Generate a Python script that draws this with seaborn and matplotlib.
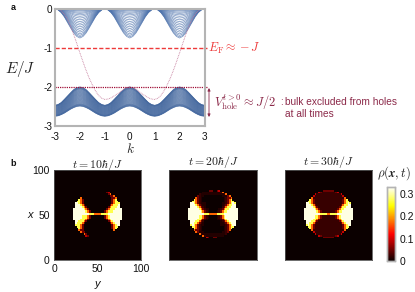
import numpy as np
import pandas as pd
import matplotlib
matplotlib.use("Agg")
import matplotlib.pyplot as plt
import seaborn as sns

sns.set_theme(style="white")
plt.rcParams["font.family"] = ["Liberation Sans", "DejaVu Sans"]
plt.rcParams["mathtext.fontset"] = "cm"

# ---------- panel a data ----------
K = [-3 + 0.125 * i for i in range(49)]
TOP_LOWER = [0, -.03, -.10, -.21, -.35, -.49, -.62, -.71, -.75, -.71, -.62, -.49, -.35, -.21, -.10, -.03,
             0, -.03, -.10, -.21, -.35, -.49, -.62, -.71, -.75, -.71, -.62, -.49, -.35, -.21, -.10, -.03,
             0, -.03, -.10, -.21, -.35, -.49, -.62, -.71, -.75, -.71, -.62, -.49, -.35, -.21, -.10, -.03, 0]
BOT_UPPER = [-2.47, -2.45, -2.40, -2.32, -2.235, -2.15, -2.07, -2.02, -2.00, -2.02, -2.07, -2.15, -2.235, -2.32, -2.40, -2.45,
             -2.47, -2.45, -2.40, -2.32, -2.235, -2.15, -2.07, -2.02, -2.00, -2.02, -2.07, -2.15, -2.235, -2.32, -2.40, -2.45,
             -2.47, -2.45, -2.40, -2.32, -2.235, -2.15, -2.07, -2.02, -2.00, -2.02, -2.07, -2.15, -2.235, -2.32, -2.40, -2.45, -2.47]
BOT_LOWER = [-2.75, -2.74, -2.71, -2.67, -2.62, -2.57, -2.53, -2.50, -2.49, -2.50, -2.53, -2.57, -2.62, -2.67, -2.71, -2.74,
             -2.75, -2.74, -2.71, -2.67, -2.62, -2.57, -2.53, -2.50, -2.49, -2.50, -2.53, -2.57, -2.62, -2.67, -2.71, -2.74,
             -2.75, -2.74, -2.71, -2.67, -2.62, -2.57, -2.53, -2.50, -2.49, -2.50, -2.53, -2.57, -2.62, -2.67, -2.71, -2.74, -2.75]
TOP_LEVELS = [.01, .03, .05, .08, .12, .16, .21, .26, .32, .38, .44, .50, .56, .62, .68, .74, .80, .86, .91, .96, 1.0]
BOT_LEVELS = [0, .015, .03, .05, .07, .09, .11, .14, .17, .20, .23, .26, .29, .32, .35, .38, .41, .44, .47, .50, .53,
              .56, .59, .62, .65, .68, .71, .74, .77, .80, .83, .86, .89, .91, .93, .95, .97, .985, 1.0]
EDGE_K = [-3, -2.875, -2.75, -2.625, -2.5, -2.375, -2.25, -2.125, -2, -1.875, -1.75, -1.625, -1.5, -1.375, -1.25, -1.125,
          -1, -.875, -.75, -.625, -.5, -.375, -.25, -.125, 0,
          .125, .25, .375, .5, .625, .75, .875, 1, 1.125, 1.25, 1.375, 1.5, 1.625, 1.75, 1.875, 2,
          2.125, 2.25, 2.375, 2.5, 2.625, 2.75, 2.875, 3]
EDGE_E = [0, -.01, -.05, -.14, -.27, -.45, -.66, -.89, -1.13, -1.36, -1.58, -1.78, -1.95, -2.10, -2.22, -2.29,
          -2.32, -2.31, -2.28, -2.23, -2.18, -2.12, -2.06, -2.02, -2.0,
          -2.02, -2.06, -2.12, -2.18, -2.23, -2.28, -2.31, -2.32, -2.29, -2.22, -2.10, -1.95, -1.78, -1.58, -1.36, -1.13,
          -.89, -.66, -.45, -.27, -.14, -.05, -.01, 0]
E_FERMI = -1
E_HOLE = -2

X_TICKS = [-3, -2, -1, 0, 1, 2, 3]
X_LABELS = ["-3", "-2", "-1", "0", "1", "2", "3"]
Y_TICKS = [0, -1, -2, -3]
Y_LABELS = ["0", "-1", "-2", "-3"]

# ---------- panel b data: density map, upper half + centre row (two cells per character) ----------
DENSITY = {".": 0.0, "n": 0.012, "m": 0.022, "d": 0.05, "r": 0.09, "o": 0.17, "y": 0.27, "w": 0.32}
T10 = [
    ".............. ..............",
    ".............. .....dr.......",
    ".............. ......do......",
    ".............. .......ddo....",
    "....o......... ........ddo...",
    "...yod........ ........doy...",
    "..yyod........ ........doyy..",
    ".wwyod........ ........doyyy.",
    ".wwwyod....... .......doyyyw.",
    ".wwwwyod...... ......doyyyww.",
    "wwwwwwyod..... .....doyyywwww",
    "wwwwwwwyod.... ....doyyywwwww",
    "wwwwwwwyod.... ....doyyywwwww",
    "wwwwwwwwwyyyoo ooyyyywwwwwwww",
]
T20 = [
    "............dd ..dr..........",
    "........nnnnnn nnnnmo........",
    "......mnnnnnnn nnnnnnmo......",
    ".....dmnn..... .....nnndo....",
    "....odmn...... ......nmddo...",
    "...yodmn...... ......nmdoy...",
    "..yyodmn...... ......nmdoyy..",
    ".wwyodmnnn.... .....nnmdoywy.",
    ".wwwyodmnn.... .....nmdoyyww.",
    ".wwwwyodmn.... .....mdoyywww.",
    "wwwwwwyodmnn.. ...nmdoyywwwww",
    "wwwwwwwyodmn.. ..nmdoyywwwwww",
    "wwwwwwwyodmn.. ..nmdoyywwwwww",
    "wwwwwwwwwyyyoo ooyyyywwwwwwww",
]
T30 = [
    "...........ddd ddd...........",
    "........rdmmmm mmmmdr........",
    "......rmmmmmmm mmmmmmmr......",
    ".....rmmmmmmmm mmmmmmmmr.....",
    "....ommmmmmmmm mmmmmmmmmo....",
    "...yodmmmmmmmm mmmmmmmmdoy...",
    "..yyodmmmmmmmm mmmmmmmmdoyy..",
    ".wwyodmmmmmmmm mmmmmmmmdoywy.",
    ".wwwyodmmmmmmm mmmmmmmdoyyww.",
    ".wwwwyodmmmmmm mmmmmmdoyywww.",
    "wwwwwwyodmmmmm mmmmmdoyywwwww",
    "wwwwwwwyodmmmm mmmmdoyywwwwww",
    "wwwwwwwyodmmmm mmmmdoyywwwwww",
    "wwwwwwwwwyyyyo oyyyywwwwwwwww",
]
PANELS = [T10, T20, T30]
TITLES = [r"$t=10\hbar/J$", r"$t=20\hbar/J$", r"$t=30\hbar/J$"]
CBAR_TICKS = [0, 0.1, 0.2, 0.3]
CBAR_LABELS = ["0", "0.1", "0.2", "0.3"]
AXIS_TICKS = [0, 50, 100]

W, H = 415, 292
RED = "#ee3a3a"
WINE = "#8c2a4a"


def box(x0, y0, x1, y1):
    return [x0 / W, 1 - y1 / H, (x1 - x0) / W, (y1 - y0) / H]


def full_map(rows):
    top = np.array([[DENSITY[c] for c in r.replace(" ", "")] for r in rows])
    grid = np.vstack([top[:-1], top[-1:], top[-2::-1, ::-1]])
    return np.pad(grid, ((11, 12), (11, 11)))


fig = plt.figure(figsize=(W / 100, H / 100), dpi=100)

# ---------- panel a ----------
ax = fig.add_axes(box(55, 8.7, 204.5, 126))
k = np.array(K)
low = np.array(TOP_LOWER)
for f in TOP_LEVELS:
    sns.lineplot(x=k, y=f * low, ax=ax, color="#4f74ad", lw=0.5, estimator=None, sort=False, alpha=0.8)
up2, lo2 = np.array(BOT_UPPER), np.array(BOT_LOWER)
for f in BOT_LEVELS:
    sns.lineplot(x=k, y=up2 + f * (lo2 - up2), ax=ax, color="#44689f", lw=0.5, estimator=None, sort=False, alpha=0.8)
sns.lineplot(x=EDGE_K, y=EDGE_E, ax=ax, color="#c4799a", lw=0.6, ls=(0, (1, 1)), estimator=None, sort=False)
ax.plot([-3, 3.1], [E_FERMI, E_FERMI], color=RED, lw=1.0, ls=(0, (3, 1.5)), clip_on=False)
ax.plot([-3, 3.1], [E_HOLE, E_HOLE], color="#a01038", lw=0.9, ls=(0, (1, 0.8)), clip_on=False)
ax.set_xlim(-3, 3)
ax.set_ylim(-3, 0)
ax.set_xticks(X_TICKS, X_LABELS)
ax.set_yticks(Y_TICKS, Y_LABELS)
ax.tick_params(axis="x", length=0, pad=4, labelsize=7.2, colors="#111111")
ax.tick_params(axis="y", length=0, pad=2, labelsize=7.2, colors="#111111")
for s in ax.spines.values():
    s.set_color("#b4b4b4")
    s.set_linewidth(1.5)
ax.annotate("", xy=(209 / W, 1 - 88 / H), xytext=(209 / W, 1 - 117 / H), xycoords="figure fraction",
            textcoords="figure fraction",
            arrowprops=dict(arrowstyle="<|-|>", color=WINE, lw=0.6, mutation_scale=4, shrinkA=0, shrinkB=0))


def label(x, y, s, **kw):
    kw.setdefault("ha", "left")
    kw.setdefault("va", "center")
    fig.text(x / W, 1 - y / H, s, **kw)


label(13, 7, "a", fontsize=6.5, fontweight="bold", color="#111111", ha="center")
label(13, 163, "b", fontsize=6.5, fontweight="bold", color="#111111", ha="center")
label(20, 69, r"$E/J$", fontsize=11, color="#222222", ha="center")
label(130, 149, r"$k$", fontsize=9.5, color="#222222", ha="center")
label(208, 48, r"$E_{\mathrm{F}}\approx-J$", fontsize=8.8, color=RED)
label(214, 102, r"$V_{\mathrm{hole}}^{t>0}\approx J/2$", fontsize=9, color=WINE)
label(280, 102, ":", fontsize=7, color=WINE)
label(285, 102, "bulk excluded from holes", fontsize=7.25, color=WINE)
label(285, 114, "at all times", fontsize=7.25, color=WINE)

# ---------- panel b ----------
boxes = [box(54, 170, 141, 260), box(169, 170, 257, 260), box(285, 170, 372, 260)]
cax = fig.add_axes(box(387, 187, 395, 261))
for i, (rows, title, b) in enumerate(zip(PANELS, TITLES, boxes)):
    a = fig.add_axes(b)
    df = pd.DataFrame(full_map(rows))
    sns.heatmap(df, ax=a, cmap="hot", vmin=0, vmax=0.33, cbar=i == 0, cbar_ax=cax if i == 0 else None,
                xticklabels=False, yticklabels=False, rasterized=True)
    a.set_xlabel("")
    a.set_ylabel("")
    a.set_title(title, fontsize=8.5, pad=1.5, color="#222222")
    for s in a.spines.values():
        s.set_visible(True)
        s.set_color("#555555")
        s.set_linewidth(0.6)
    if i == 0:
        a.set_xticks([v / 2 for v in AXIS_TICKS], [str(v) for v in AXIS_TICKS])
        a.set_yticks([50 - v / 2 for v in AXIS_TICKS], [str(v) for v in AXIS_TICKS], rotation=0)
        a.tick_params(length=0, pad=3, labelsize=7.5, colors="#111111")

label(30, 215, "x", fontsize=8, style="italic", color="#111111", ha="center")
label(97, 284, "y", fontsize=8, style="italic", color="#111111", ha="center")
label(377, 173, r"$\rho(\boldsymbol{x},t)$", fontsize=9.2, color="#222222")

cax.set_yticks(CBAR_TICKS, CBAR_LABELS)
cax.tick_params(length=0, pad=3, labelsize=7.5, colors="#111111", right=False)
for s in cax.spines.values():
    s.set_visible(True)
    s.set_color("#b4b4b4")
    s.set_linewidth(1.0)

fig.savefig("out.png", dpi=100)
